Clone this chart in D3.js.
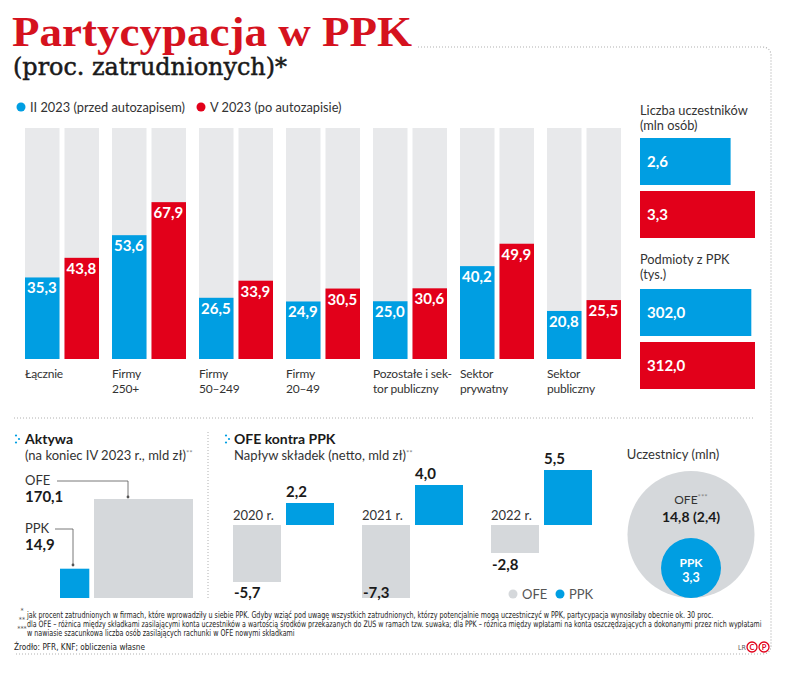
<!DOCTYPE html>
<html><head><meta charset="utf-8">
<script src="https://cdn.jsdelivr.net/npm/d3@7"></script>
<style>
html,body{margin:0;padding:0;background:#fff;}
svg{display:block;}
</style></head>
<body><svg id="c" width="788" height="676"></svg>
<script>
// ---------- DATA ----------
const titleText = "Partycypacja w PPK";
const subtitleText = "(proc. zatrudnionych)*";
const legendLabels = ["II 2023 (przed autozapisem)", "V 2023 (po autozapisie)"];
const categories = [["Łącznie"], ["Firmy", "250+"], ["Firmy", "50–249"], ["Firmy", "20–49"], ["Pozostałe i sek-", "tor publiczny"], ["Sektor", "prywatny"], ["Sektor", "publiczny"]];
const valuesFeb = [35.3, 53.6, 26.5, 24.9, 25.0, 40.2, 20.8];
const valuesMay = [43.8, 67.9, 33.9, 30.5, 30.6, 49.9, 25.5];
const participantsTitle = ["Liczba uczestników", "(mln osób)"];
const participants = [2.6, 3.3];
const entitiesTitle = ["Podmioty z PPK", "(tys.)"];
const entities = [302.0, 312.0];
const assetLabels = ["OFE", "PPK"];
const assets = [170.1, 14.9];
const years = ["2020 r.", "2021 r.", "2022 r."];
const ofeFlow = [-5.7, -7.3, -2.8];
const ppkFlow = [2.2, 4.0, 5.5];
const membersOFE = 14.8, membersOFEActive = 2.4, membersPPK = 3.3;
const footnotes = [
  ["*", "jak procent zatrudnionych w firmach, które wprowadziły u siebie PPK. Gdyby wziąć pod uwagę wszystkich zatrudnionych, którzy potencjalnie mogą uczestniczyć w PPK, partycypacja wynosiłaby obecnie ok. 30 proc."],
  ["**", "dla OFE – różnica między składkami zasilającymi konta uczestników a wartością środków przekazanych do ZUS w ramach tzw. suwaka; dla PPK – różnica między wpłatami na konta oszczędzających a dokonanymi przez nich wypłatami"],
  ["***", "w nawiasie szacunkowa liczba osób zasilających rachunki w OFE nowymi składkami"]
];
const sourceText = "Źrodło: PFR, KNF; obliczenia własne";

// ---------- STYLE ----------
const BLUE = "#009ee2", RED = "#e2001a", TRED = "#d5121e", BG = "#e8e9eb", GRAY = "#d5d8db", TXT = "#333";
const SANS = "Lato, 'Open Sans', sans-serif";
const fmt = v => d3.format(".1f")(v).replace(".", ",").replace("\u2212", "-");

const svg = d3.select("#c");

// borders
const dotC = "#b0b0b0";
svg.append("path").attr("d", "M418 47 H762 Q771 47 771 56 V645 Q771 654 762 654 H14")
  .attr("fill", "none").attr("stroke", dotC).attr("stroke-width", 1.2).attr("stroke-dasharray", "1,2");
svg.append("line").attr("x1", 14).attr("x2", 755).attr("y1", 418).attr("y2", 418)
  .attr("stroke", dotC).attr("stroke-dasharray", "1,2");
svg.append("line").attr("x1", 208).attr("x2", 208).attr("y1", 432).attr("y2", 598)
  .attr("stroke", dotC).attr("stroke-dasharray", "1,2");

// title
svg.append("text").attr("x", 12).attr("y", 46).text(titleText)
  .attr("font-family", "'Liberation Serif', serif").attr("font-weight", "bold").attr("font-size", 43)
  .attr("fill", TRED).attr("textLength", 400).attr("lengthAdjust", "spacingAndGlyphs");
svg.append("text").attr("x", 13).attr("y", 75).text(subtitleText)
  .attr("font-family", "'DejaVu Serif', serif").attr("font-size", 24)
  .attr("fill", "#1a1a1a").attr("stroke", "#1a1a1a").attr("stroke-width", 0.5)
  .attr("textLength", 274).attr("lengthAdjust", "spacingAndGlyphs");

// legend
const legX = [21, 201];
legendLabels.forEach((l, i) => {
  svg.append("circle").attr("cx", legX[i]).attr("cy", 107).attr("r", 4.5).attr("fill", i ? RED : BLUE);
  svg.append("text").attr("x", legX[i] + 9).attr("y", 112).text(l)
    .attr("font-family", SANS).attr("font-size", 12.8).attr("fill", TXT);
});

// ---------- TOP GROUPED BARS ----------
const x0 = d3.scaleBand().domain(d3.range(categories.length)).range([25, 621]).paddingInner(13 / 87).paddingOuter(0);
const x1 = d3.scaleBand().domain([0, 1]).range([0, x0.bandwidth()]).paddingInner(5 / 39.5).paddingOuter(0);
const yTop = d3.scaleLinear().domain([0, 100]).range([359, 128]);
const topG = svg.append("g");
categories.forEach((cat, i) => {
  const g = topG.append("g").attr("transform", `translate(${x0(i)},0)`);
  [valuesFeb[i], valuesMay[i]].forEach((v, k) => {
    g.append("rect").attr("x", x1(k)).attr("y", yTop(100)).attr("width", x1.bandwidth()).attr("height", yTop(0) - yTop(100)).attr("fill", BG);
    g.append("rect").attr("x", x1(k)).attr("y", yTop(v)).attr("width", x1.bandwidth()).attr("height", yTop(0) - yTop(v)).attr("fill", k ? RED : BLUE);
    g.append("text").attr("x", x1(k) + 2).attr("y", yTop(v) + 16).text(fmt(v))
      .attr("font-family", SANS).attr("font-weight", "bold").attr("font-size", 15).attr("fill", "#fff");
  });
  cat.forEach((line, j) => {
    g.append("text").attr("x", 0).attr("y", 378 + j * 14.5).text(line)
      .attr("font-family", SANS).attr("font-size", 12).attr("letter-spacing", -0.2).attr("fill", TXT);
  });
});

// ---------- RIGHT PANEL ----------
function hPanel(titleLines, vals, titleY, range) {
  titleLines.forEach((t, j) => svg.append("text").attr("x", 640).attr("y", titleY + j * 14.5).text(t)
    .attr("font-family", SANS).attr("font-size", 12.8).attr("fill", TXT));
  const xs = d3.scaleLinear().domain([0, d3.max(vals)]).range([0, 115]);
  const ys = d3.scaleBand().domain([0, 1]).range(range).paddingInner(6 / 53).paddingOuter(0);
  vals.forEach((v, k) => {
    svg.append("rect").attr("x", 640).attr("y", ys(k)).attr("width", xs(v)).attr("height", ys.bandwidth()).attr("fill", k ? RED : BLUE);
    svg.append("text").attr("x", 647).attr("y", ys(k) + ys.bandwidth() / 2 + 5).text(fmt(v))
      .attr("font-family", SANS).attr("font-weight", "bold").attr("font-size", 15).attr("fill", "#fff");
  });
}
hPanel(participantsTitle, participants, 115, [138, 238]);
hPanel(entitiesTitle, entities, 264, [289, 389]);

// section bullets
function bullet(x, yy) {
  [[0, -3.5], [0, 3.5], [3, 0]].forEach(p => svg.append("circle").attr("cx", x + p[0]).attr("cy", yy + p[1]).attr("r", 1.1).attr("fill", BLUE));
}

// ---------- AKTYWA ----------
bullet(16, 439);
svg.append("text").attr("x", 25).attr("y", 444).text("Aktywa")
  .attr("font-family", SANS).attr("font-weight", "bold").attr("font-size", 14).attr("fill", "#1a1a1a");
const sub1 = svg.append("text").attr("x", 25).attr("y", 460).attr("font-family", SANS).attr("font-size", 13).attr("fill", TXT);
sub1.append("tspan").text("(na koniec IV 2023 r., mld zł)");
sub1.append("tspan").text("**").attr("font-size", 8).attr("dy", -4).attr("fill", "#888");

const side = d3.scaleSqrt().domain([0, d3.max(assets)]).range([0, 99]);
const boxX = [94, 60];
const labelY = [485, 533];
const conn = [[57, 481, 128, 497], [55, 529, 73, 565]];
assets.forEach((v, k) => {
  const s = side(v);
  svg.append("rect").attr("x", boxX[k]).attr("y", 598 - s).attr("width", s).attr("height", s).attr("fill", k ? BLUE : GRAY);
  svg.append("text").attr("x", 25).attr("y", labelY[k]).text(assetLabels[k])
    .attr("font-family", SANS).attr("font-size", 13).attr("fill", TXT);
  svg.append("text").attr("x", 25).attr("y", labelY[k] + 17).text(fmt(v))
    .attr("font-family", SANS).attr("font-weight", "bold").attr("font-size", 15).attr("fill", "#1a1a1a");
  const c = conn[k];
  svg.append("path").attr("d", `M${c[0]} ${c[1]} H${c[2]} V${c[3]}`).attr("fill", "none").attr("stroke", "#555").attr("stroke-width", 0.8);
  svg.append("circle").attr("cx", c[2]).attr("cy", c[3]).attr("r", 1.4).attr("fill", "#555");
});

// ---------- OFE KONTRA PPK ----------
bullet(226, 439);
svg.append("text").attr("x", 234).attr("y", 444).text("OFE kontra PPK")
  .attr("font-family", SANS).attr("font-weight", "bold").attr("font-size", 14).attr("fill", "#1a1a1a");
const sub2 = svg.append("text").attr("x", 234).attr("y", 460).attr("font-family", SANS).attr("font-size", 13).attr("fill", TXT);
sub2.append("tspan").text("Napływ składek (netto, mld zł)");
sub2.append("tspan").text("**").attr("font-size", 8).attr("dy", -4).attr("fill", "#888");

const gx = d3.scaleBand().domain(years).range([233, 592]).paddingInner(28 / 129).paddingOuter(0);
const gx1 = d3.scaleBand().domain([0, 1]).range([0, gx.bandwidth()]).paddingInner(5 / 53).paddingOuter(0);
const fy = d3.scaleLinear().domain([-7.3, 5.5]).range([598, 470]);
years.forEach((yr, i) => {
  const g = svg.append("g").attr("transform", `translate(${gx(yr)},0)`);
  const o = ofeFlow[i], p = ppkFlow[i];
  g.append("rect").attr("x", gx1(0)).attr("y", fy(0)).attr("width", gx1.bandwidth()).attr("height", fy(o) - fy(0)).attr("fill", GRAY);
  g.append("rect").attr("x", gx1(1)).attr("y", fy(p)).attr("width", gx1.bandwidth()).attr("height", fy(0) - fy(p)).attr("fill", BLUE);
  g.append("text").attr("x", gx1(0)).attr("y", fy(0) - 5).text(yr)
    .attr("font-family", SANS).attr("font-size", 13).attr("fill", TXT);
  g.append("text").attr("x", gx1(1)).attr("y", fy(p) - 6).text(fmt(p))
    .attr("font-family", SANS).attr("font-weight", "bold").attr("font-size", 15).attr("fill", "#1a1a1a");
  g.append("text").attr("x", gx1(0) + 1).attr("y", Math.min(fy(o) + 17, 598)).text(fmt(o))
    .attr("font-family", SANS).attr("font-weight", "bold").attr("font-size", 15).attr("fill", "#1a1a1a");
});
[["OFE", GRAY, 513], ["PPK", BLUE, 560]].forEach(d => {
  svg.append("circle").attr("cx", d[2]).attr("cy", 594).attr("r", 4.5).attr("fill", d[1]);
  svg.append("text").attr("x", d[2] + 9).attr("y", 599).text(d[0])
    .attr("font-family", SANS).attr("font-size", 13).attr("fill", "#555");
});

// ---------- CIRCLES ----------
svg.append("text").attr("x", 673).attr("y", 459).attr("text-anchor", "middle").text("Uczestnicy (mln)")
  .attr("font-family", SANS).attr("font-size", 13).attr("fill", TXT);
const rScale = d3.scaleSqrt().domain([0, membersOFE]).range([0, 63.5]);
const cx = 691, bottomY = 598;
svg.append("circle").attr("cx", cx).attr("cy", bottomY - rScale(membersOFE)).attr("r", rScale(membersOFE)).attr("fill", GRAY);
svg.append("circle").attr("cx", cx).attr("cy", bottomY - rScale(membersPPK)).attr("r", rScale(membersPPK)).attr("fill", BLUE);
const ofeT = svg.append("text").attr("x", cx).attr("y", 504).attr("text-anchor", "middle")
  .attr("font-family", SANS).attr("font-size", 12).attr("fill", TXT);
ofeT.append("tspan").text("OFE");
ofeT.append("tspan").text("***").attr("font-size", 8).attr("dy", -4).attr("fill", "#888");
svg.append("text").attr("x", cx).attr("y", 522).attr("text-anchor", "middle").text(`${fmt(membersOFE)} (${fmt(membersOFEActive)})`)
  .attr("font-family", SANS).attr("font-weight", "bold").attr("font-size", 14).attr("fill", "#1a1a1a");
svg.append("text").attr("x", cx).attr("y", 567).attr("text-anchor", "middle").text("PPK")
  .attr("font-family", SANS).attr("font-weight", "bold").attr("font-size", 12).attr("fill", "#fff");
svg.append("text").attr("x", cx).attr("y", 582).attr("text-anchor", "middle").text(fmt(membersPPK))
  .attr("font-family", SANS).attr("font-weight", "bold").attr("font-size", 12.5).attr("fill", "#fff");

// ---------- FOOTNOTES ----------
const FN = "'Liberation Sans Narrow', 'DejaVu Sans Condensed', sans-serif";
const fnY = [618, 627, 636];
const fnTarget = [686, 736, null];
let sx1 = 1;
footnotes.forEach((f, i) => {
  svg.append("text").attr("x", 22).attr("y", fnY[i] - 5).attr("text-anchor", "middle").text(f[0])
    .attr("font-family", FN).attr("font-size", 7).attr("fill", "#555");
  const t = svg.append("text").attr("x", 0).attr("y", 0).text(f[1])
    .attr("font-family", FN).attr("font-size", 8.8).attr("fill", "#222");
  const w = t.node().getComputedTextLength();
  let sx = fnTarget[i] ? fnTarget[i] / w : sx1;
  if (i === 0) sx1 = sx;
  t.attr("transform", `translate(27,${fnY[i]}) scale(${sx},1)`);
});
const src = svg.append("text").attr("x", 0).attr("y", 0).text(sourceText)
  .attr("font-family", FN).attr("font-size", 8.8).attr("fill", "#222");
src.attr("transform", `translate(14,650) scale(${Math.min(1, sx1 * 1.15)},1)`);
svg.append("text").attr("x", 738).attr("y", 650).text("LR")
  .attr("font-family", FN).attr("font-size", 7).attr("fill", "#555");
[["C", 752], ["P", 764]].forEach(d => {
  svg.append("circle").attr("cx", d[1]).attr("cy", 647).attr("r", 5).attr("fill", "none").attr("stroke", RED).attr("stroke-width", 1.3);
  svg.append("text").attr("x", d[1]).attr("y", 650).attr("text-anchor", "middle").text(d[0])
    .attr("font-family", SANS).attr("font-weight", "bold").attr("font-size", 7.5).attr("fill", RED);
});
</script></body></html>
